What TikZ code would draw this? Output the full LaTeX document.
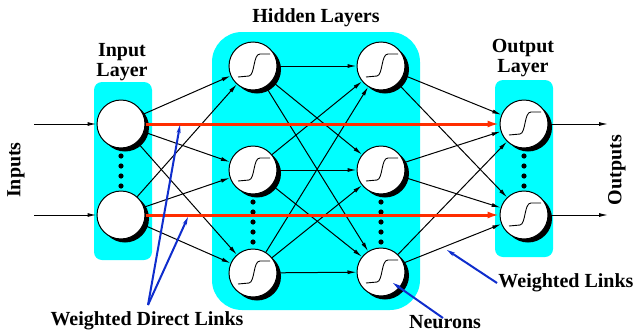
\documentclass[tikz,border=0pt]{standalone}
\usepackage{fontspec}
\setmainfont{Liberation Serif}
\usetikzlibrary{arrows.meta}
\definecolor{boxcyan}{RGB}{0,255,255}
\definecolor{linkred}{RGB}{255,45,0}
\definecolor{ptrblue}{RGB}{15,45,205}
\tikzset{
  neuron/.style={circle, draw=black, fill=white, line width=1pt, minimum size=48pt, inner sep=0pt},
  layerbox/.style={fill=boxcyan, draw=none},
  link/.style={line width=1pt, -{Latex[length=9pt,width=4pt]}},
  directlink/.style={draw=linkred, line width=3pt, -{Latex[length=12pt,width=7pt]}},
  pointer/.style={draw=ptrblue, line width=2pt, -{Stealth[length=8pt,width=4pt]}},
  sigmoid/.style={line width=0.9pt},
  lbl/.style={font=\bfseries\fontsize{20}{20}\selectfont, align=center, inner sep=0pt},
}
\begin{document}
\begin{tikzpicture}[x=1pt,y=-1pt]
\useasboundingbox (0,0) rectangle (635,335);
% layer boxes
\fill[layerbox, rounded corners=8pt] (94,82) rectangle (152,260);
\fill[layerbox, rounded corners=30pt] (212,32) rectangle (420,310);
\fill[layerbox, rounded corners=8pt] (495,80) rectangle (553,257);
% shadows
\foreach \x/\y in {121/124,121/215,253/66,253/170,253/273,381/66,381/170,381/272,524/124,524/215}
  \fill[black] (\x+4,\y+3.5) circle (24);
% neurons
\node[neuron] (i1) at (121,124) {};
\node[neuron] (i2) at (121,215) {};
\node[neuron] (h1) at (253,66) {};
\node[neuron] (h2) at (253,170) {};
\node[neuron] (h3) at (253,273) {};
\node[neuron] (g1) at (381,66) {};
\node[neuron] (g2) at (381,170) {};
\node[neuron] (g3) at (381,272) {};
\node[neuron] (o1) at (524,124) {};
\node[neuron] (o2) at (524,215) {};
% sigmoid curves
\foreach \n in {h1,h2,h3,g1,g2,g3,o1,o2}{
  \begin{scope}[shift={(\n.center)}]
    \draw[sigmoid] (-15,11) -- (-4,10) .. controls (2,9) and (0,-12) .. (7,-12) -- (17,-12);
  \end{scope}
}
% dots
\foreach \y in {156,166,176,186}{
  \fill (121,\y) circle (2.6);
  \fill (524,\y) circle (2.6);
}
\foreach \y in {202,212,222,232,242}{
  \fill (253,\y) circle (2.6);
  \fill (381,\y) circle (2.6);
}
% input / output arrows
\coordinate (in1) at (34,124);
\coordinate (in2) at (34,215);
\coordinate (out1) at (608,124);
\coordinate (out2) at (608,215);
\draw[link] (in1) -- (i1);
\draw[link] (in2) -- (i2);
\draw[link] (o1) -- (out1);
\draw[link] (o2) -- (out2);
% links
\foreach \a in {i1,i2}
  \foreach \b in {h1,h2,h3}
    \draw[link] (\a) -- (\b);
\foreach \a in {h1,h2,h3}
  \foreach \b in {g1,g2,g3}
    \draw[link] (\a) -- (\b);
\foreach \a in {g1,g2,g3}
  \foreach \b in {o1,o2}
    \draw[link] (\a) -- (\b);
% direct links
\draw[directlink] (i1) -- (o1);
\draw[directlink] (i2) -- (o2);
% labels
\node[lbl] (tin) at (122,62) {Input\\Layer};
\node[lbl] (thid) at (316,18) {Hidden Layers};
\node[lbl] (tout) at (523,58) {Output\\Layer};
\node[lbl, rotate=90] (tinputs) at (16,170) {Inputs};
\node[lbl, rotate=90] (toutputs) at (617,170) {Outputs};
\node[lbl] (twdl) at (147,321) {Weighted Direct Links};
\node[lbl] (tneu) at (445,322) {Neurons};
\node[lbl] (twl) at (566,283) {Weighted Links};
% pointers
\coordinate (pA) at (148,305);
\coordinate (pA1) at (180,125);
\coordinate (pA2) at (188,217);
\draw[pointer] (pA) -- (pA1);
\draw[pointer] (pA) -- (pA2);
\coordinate (pN) at (443,318);
\coordinate (pN1) at (393,283);
\draw[pointer] (pN) -- (pN1);
\coordinate (pW) at (497,283);
\coordinate (pW1) at (447,250);
\draw[pointer] (pW) -- (pW1);
\end{tikzpicture}
\end{document}
